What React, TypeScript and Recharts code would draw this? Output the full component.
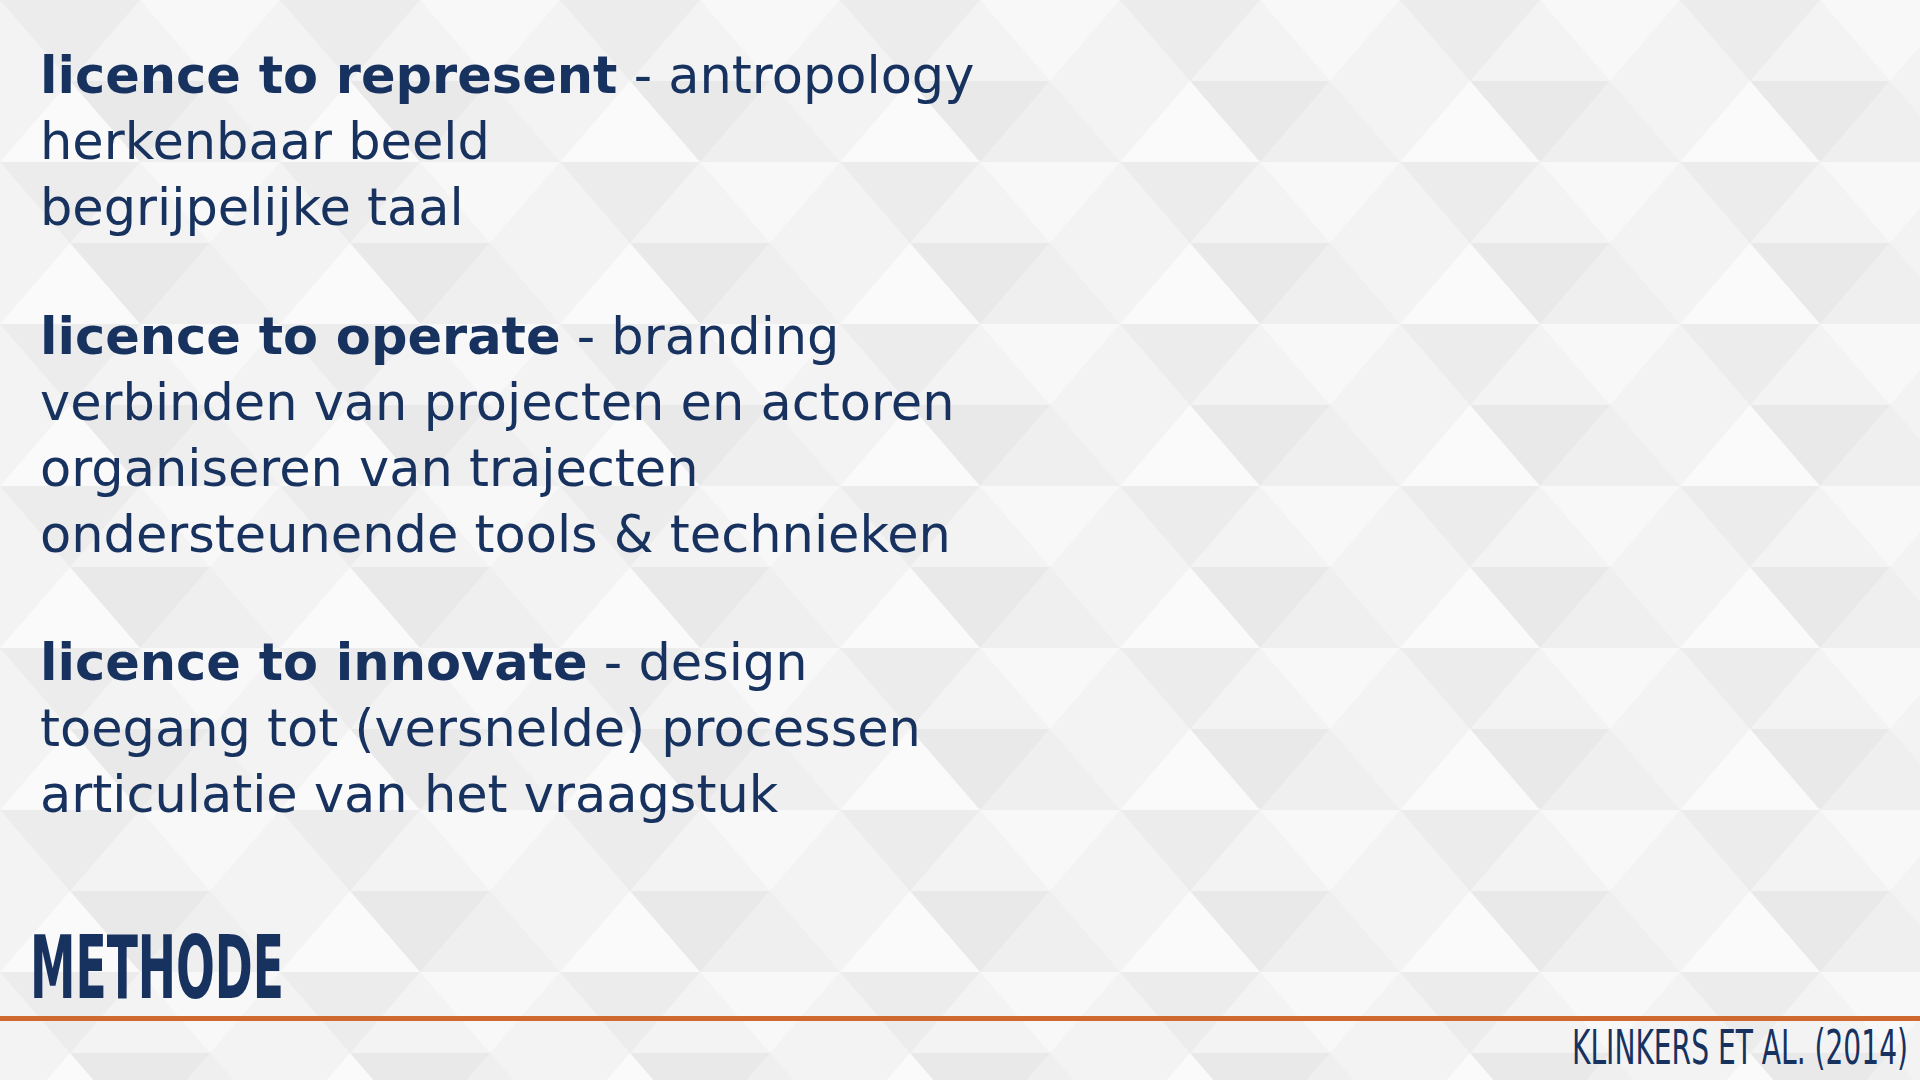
import React from 'react';
import { ComposedChart, Customized } from 'recharts';

const W = 1920;
const H = 1080;
const NAVY = '#17325f';

// slide text blocks
const headings = [
  { bold: 'licence to represent', rest: ' - antropology' },
  { bold: 'licence to operate', rest: ' - branding' },
  { bold: 'licence to innovate', rest: ' - design' },
];
const bullets = [
  ['herkenbaar beeld', 'begrijpelijke taal'],
  ['verbinden van projecten en actoren', 'organiseren van trajecten', 'ondersteunende tools & technieken'],
  ['toegang tot (versnelde) processen', 'articulatie van het vraagstuk'],
];
const blockTop = [93, 354, 680];
const title = 'METHODE';
const citation = 'KLINKERS ET AL. (2014)';

const Slide = () => {
  const lh = 66;
  return (
    <g>
      <defs>
        <pattern id="tri" width="280" height="162" patternUnits="userSpaceOnUse">
          <rect width="280" height="162" fill="#f3f3f4" />
          <polygon points="0,0 140,0 70,81" fill="#ececed" />
          <polygon points="140,0 280,0 210,81" fill="#f8f8f9" />
          <polygon points="70,81 210,81 140,162" fill="#e9e9ea" />
          <polygon points="0,162 70,81 140,162" fill="#fafafa" />
          <polygon points="210,81 280,162 140,162" fill="#efeff0" />
        </pattern>
      </defs>
      <rect x={0} y={0} width={W} height={H} fill="url(#tri)" />
      {headings.map((h, i) => (
        <g key={i} fontFamily="'DejaVu Sans', sans-serif" fill={NAVY}>
          <text x={40} y={blockTop[i]} fontSize={51}>
            <tspan fontWeight={700}>{h.bold}</tspan>
            <tspan fontWeight={400}>{h.rest}</tspan>
          </text>
          {bullets[i].map((b, j) => (
            <text key={j} x={40} y={blockTop[i] + lh * (j + 1)} fontSize={51}>{b}</text>
          ))}
        </g>
      ))}
      <text x={30} y={998} fontSize={88} fontWeight={700} fill={NAVY}
        fontFamily="'Liberation Sans Narrow', 'DejaVu Sans Condensed', sans-serif"
        textLength={254} lengthAdjust="spacingAndGlyphs">{title}</text>
      <rect x={0} y={1016} width={W} height={5} fill="#d0692f" />
      <text x={1572} y={1064} fontSize={48} fill={NAVY}
        fontFamily="'Liberation Sans Narrow', 'DejaVu Sans Condensed', sans-serif"
        textLength={336} lengthAdjust="spacingAndGlyphs">{citation}</text>
    </g>
  );
};

export default function App() {
  return (
    <div style={{ position: 'absolute', left: 0, top: 0, width: W, height: H }}>
      <ComposedChart width={W} height={H} data={[]} margin={{ top: 0, right: 0, bottom: 0, left: 0 }}>
        <Customized component={Slide} />
      </ComposedChart>
    </div>
  );
}
